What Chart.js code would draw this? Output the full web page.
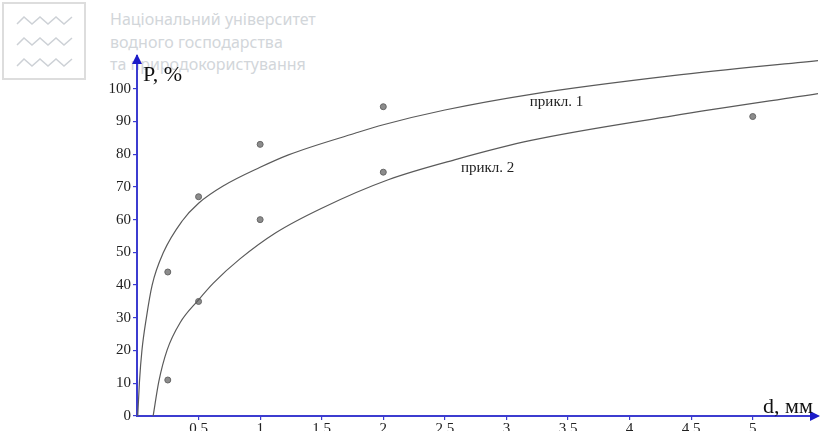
<!DOCTYPE html>
<html lang="uk">
<head>
    <meta charset="UTF-8">
    <title>P(d)</title>
    <script src="https://cdn.jsdelivr.net/npm/chart.js@4.4.0/dist/chart.umd.min.js"></script>
    <style>
        body {
            margin: 0;
            background: #ffffff;
        }

        .wrap {
            position: relative;
            width: 823px;
            height: 431px;
            overflow: hidden;
        }

        .logo {
            position: absolute;
            left: 2px;
            top: 2px;
        }

        .watermark {
            position: absolute;
            left: 110px;
            top: 8px;
            font-family: "Noto Sans", sans-serif;
            font-size: 16px;
            line-height: 22.5px;
            color: #d2d6da;
            white-space: nowrap;
        }

        #chart {
            position: absolute;
            left: 0;
            top: 0;
        }
    </style>
</head>
<body>
    <div class="wrap">
        <svg class="logo" width="86" height="80">
            <rect x="1" y="1" width="82" height="76" fill="none" stroke="#dddddd" stroke-width="2"/>
            <polyline fill="none" stroke="#cdd1d6" stroke-width="1.5" points="15,22 22,15 30,22 38,15 46,22 54,15 62,22 70,15"/>
            <polyline fill="none" stroke="#cdd1d6" stroke-width="1.5" points="15,43 22,36 30,43 38,36 46,43 54,36 62,43 70,36"/>
            <polyline fill="none" stroke="#cdd1d6" stroke-width="1.5" points="15,64 22,57 30,64 38,57 46,64 54,57 62,64 70,57"/>
        </svg>
        <div class="watermark">
            Національний університет<br>
            водного господарства<br>
            та природокористування
        </div>
        <canvas id="chart" width="823" height="431"></canvas>
    </div>

    <script>
        // measured points
        const points1X = [0.25, 0.5, 1, 2];
        const points1Y = [44, 67, 83, 94.5];
        const points2X = [0.25, 0.5, 1, 2, 5];
        const points2Y = [11, 35, 60, 74.5, 91.5];

        // fitted curves
        const curve1X = [0.006, 0.02, 0.04, 0.076, 0.123, 0.215, 0.365, 0.5, 0.71, 1, 1.23, 1.77, 2, 2.5, 3.2, 4.35, 5.53];
        const curve1Y = [0, 10.5, 20, 30, 40, 50, 59.5, 65, 70.5, 76, 79.8, 86.4, 89, 93.5, 98.3, 104, 108.6];
        const curve2X = [0.131, 0.177, 0.245, 0.35, 0.5, 0.62, 0.836, 1.127, 1.5, 2.04, 2.6, 3.2, 4.35, 5.53];
        const curve2Y = [0, 10.5, 20.2, 28.5, 35.5, 40.6, 48, 56, 63.5, 72.2, 78.5, 84.2, 91.7, 98.5];

        // axis ticks
        const xTicks = [0.5, 1, 1.5, 2, 2.5, 3, 3.5, 4, 4.5, 5];
        const yTicks = [0, 10, 20, 30, 40, 50, 60, 70, 80, 90, 100];

        // curve captions
        const captionText = ['прикл. 1', 'прикл. 2'];
        const captionX = [3.19, 2.63];
        const captionY = [96, 75.8];

        const axisBlue = '#3c3cd0';
        const arrowBlue = '#1c1cc8';
        const serif = '"Liberation Serif", "Times New Roman", serif';

        const toXY = (xs, ys) => xs.map((x, i) => ({ x: x, y: ys[i] }));

        // arrows, axis names and curve captions
        const decorations = {
            id: 'decorations',
            afterDraw(chart) {
                const ctx = chart.ctx;
                const area = chart.chartArea;
                const xs = chart.scales.x;
                const ys = chart.scales.y;
                ctx.save();

                ctx.fillStyle = arrowBlue;
                ctx.beginPath();
                ctx.moveTo(area.left, area.top - 2);
                ctx.lineTo(area.left - 5, area.top + 8);
                ctx.lineTo(area.left + 5, area.top + 8);
                ctx.closePath();
                ctx.fill();

                ctx.beginPath();
                ctx.moveTo(area.right + 2, area.bottom);
                ctx.lineTo(area.right - 8, area.bottom - 5);
                ctx.lineTo(area.right - 8, area.bottom + 5);
                ctx.closePath();
                ctx.fill();

                ctx.fillStyle = '#111111';
                ctx.textBaseline = 'alphabetic';
                ctx.textAlign = 'left';
                ctx.font = '22px ' + serif;
                ctx.fillText('P, %', area.left + 6, 81);
                ctx.fillText('d, мм', area.right - 55, area.bottom - 3);

                ctx.font = '15px ' + serif;
                ctx.fillStyle = '#222222';
                ctx.textBaseline = 'middle';
                captionText.forEach((t, i) => {
                    ctx.fillText(t, xs.getPixelForValue(captionX[i]), ys.getPixelForValue(captionY[i]));
                });
                ctx.restore();
            }
        };

        const curveStyle = {
            type: 'line',
            borderColor: '#5a5a5a',
            borderWidth: 1.2,
            pointRadius: 0,
            cubicInterpolationMode: 'monotone',
            fill: false
        };

        const pointStyle = {
            type: 'scatter',
            pointRadius: 3,
            backgroundColor: '#8c8c8c',
            borderColor: '#666666',
            borderWidth: 1
        };

        const chart = new Chart(document.getElementById('chart').getContext('2d'), {
            data: {
                datasets: [
                    Object.assign({ label: 'прикл. 1', data: toXY(curve1X, curve1Y) }, curveStyle),
                    Object.assign({ label: 'прикл. 2', data: toXY(curve2X, curve2Y) }, curveStyle),
                    Object.assign({ label: 'дослід 1', data: toXY(points1X, points1Y) }, pointStyle),
                    Object.assign({ label: 'дослід 2', data: toXY(points2X, points2Y) }, pointStyle)
                ]
            },
            options: {
                responsive: false,
                animation: false,
                layout: { padding: { top: 56, left: 0, right: 0, bottom: 0 } },
                plugins: {
                    legend: { display: false },
                    tooltip: { enabled: false }
                },
                scales: {
                    x: {
                        type: 'linear',
                        min: 0,
                        max: 5.53,
                        afterBuildTicks: (scale) => { scale.ticks = xTicks.map(v => ({ value: v })); },
                        afterFit: (scale) => { scale.height = 15; },
                        ticks: {
                            autoSkip: false,
                            maxRotation: 0,
                            padding: 0,
                            color: '#222222',
                            font: { family: serif, size: 15 },
                            callback: (v) => String(v)
                        },
                        grid: { drawOnChartArea: false, drawTicks: true, tickLength: 4, color: axisBlue, lineWidth: 1.2 },
                        border: { display: true, color: axisBlue, width: 2 }
                    },
                    y: {
                        type: 'linear',
                        min: 0,
                        max: 110,
                        afterBuildTicks: (scale) => { scale.ticks = yTicks.map(v => ({ value: v })); },
                        afterFit: (scale) => { scale.width = 137; },
                        ticks: {
                            autoSkip: false,
                            padding: 2,
                            color: '#222222',
                            font: { family: serif, size: 15 },
                            callback: (v) => String(v)
                        },
                        grid: { drawOnChartArea: false, drawTicks: true, tickLength: 4, color: axisBlue, lineWidth: 1.2 },
                        border: { display: true, color: axisBlue, width: 2 }
                    }
                }
            },
            plugins: [decorations]
        });
    </script>
</body>
</html>
